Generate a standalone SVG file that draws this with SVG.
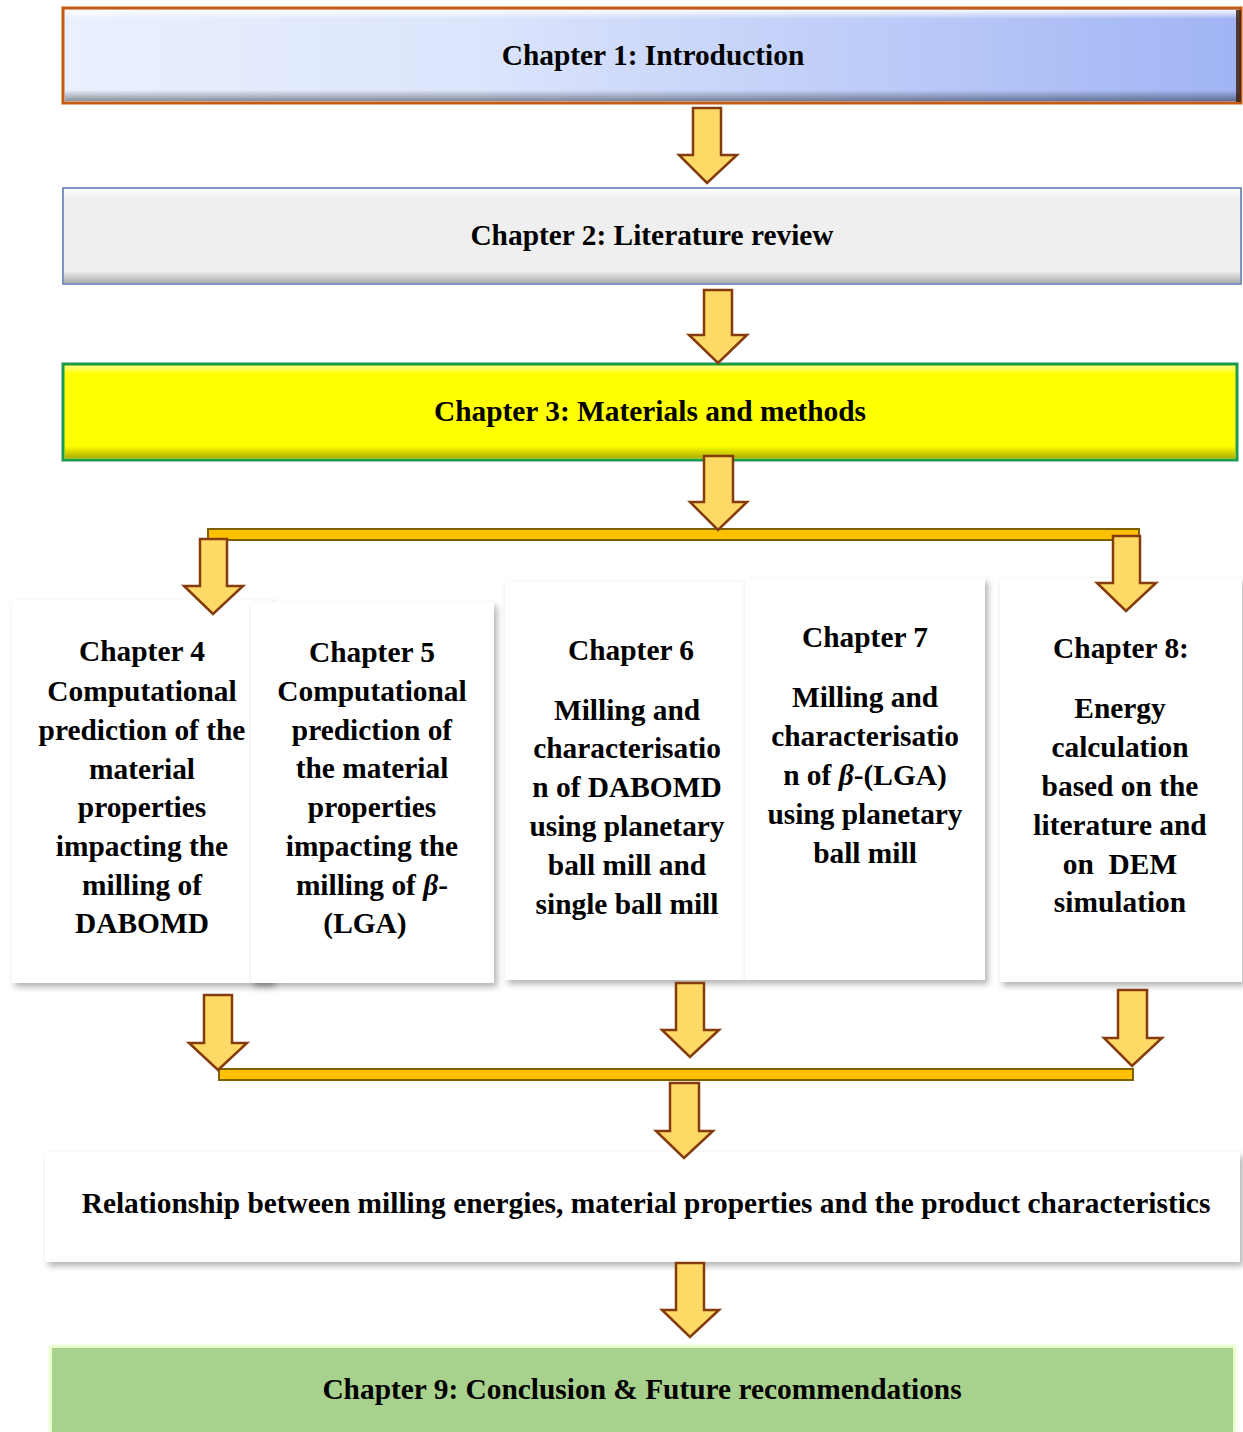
<svg xmlns="http://www.w3.org/2000/svg" width="1243" height="1432" viewBox="0 0 1243 1432">
  <defs>
    <linearGradient id="gBlue" x1="0" y1="0" x2="1" y2="0">
      <stop offset="0" stop-color="#EAF0FE"/>
      <stop offset="0.35" stop-color="#DCE5FC"/>
      <stop offset="1" stop-color="#A0B4F4"/>
    </linearGradient>
    <linearGradient id="bevTop" x1="0" y1="0" x2="0" y2="1">
      <stop offset="0" stop-color="#FFFFFF" stop-opacity="0.9"/>
      <stop offset="1" stop-color="#FFFFFF" stop-opacity="0"/>
    </linearGradient>
    <linearGradient id="bevBot" x1="0" y1="0" x2="0" y2="1">
      <stop offset="0" stop-color="#000000" stop-opacity="0"/>
      <stop offset="1" stop-color="#000000" stop-opacity="0.4"/>
    </linearGradient>
    <filter id="shadow" x="-5%" y="-5%" width="115%" height="115%">
      <feDropShadow dx="3" dy="4" stdDeviation="3" flood-color="#000000" flood-opacity="0.3"/>
    </filter>
    <filter id="glow" x="-2%" y="-10%" width="104%" height="120%">
      <feGaussianBlur stdDeviation="1.5"/>
    </filter>
  </defs>
  <style>
    .t { font-family: "Liberation Serif", "Times New Roman", serif; font-weight: bold; font-size: 29.4px; fill: #000000; text-anchor: middle; }
    .b { font-style: italic; }
    .arrow { fill: #FFD966; stroke: #843C0C; stroke-width: 2.5; stroke-linejoin: miter; }
    .bar { fill: #FFC000; stroke: #7F6000; stroke-width: 2; }
    .card { fill: #FFFFFF; filter: url(#shadow); }
  </style>

  <!-- Chapter 1 -->
  <g id="ch1">
    <rect x="63" y="8" width="1178" height="95" fill="url(#gBlue)" stroke="#C55A11" stroke-width="3"/>
    <rect x="65" y="10" width="1174" height="9" fill="url(#bevTop)"/>
    <rect x="65" y="90" width="1174" height="11" fill="url(#bevBot)"/>
    <rect x="1236" y="10" width="5" height="92" fill="#3A1A08" opacity="0.8"/>
    <text class="t" x="653" y="65">Chapter 1: Introduction</text>
  </g>

  <!-- Chapter 2 -->
  <g id="ch2">
    <rect x="63" y="188" width="1178" height="96" fill="#EFEFEF" stroke="#8094C4" stroke-width="2"/>
    <rect x="64" y="189" width="1176" height="9" fill="url(#bevTop)"/>
    <rect x="64" y="271" width="1176" height="12" fill="url(#bevBot)" opacity="0.7"/>
    <text class="t" x="652" y="245">Chapter 2: Literature review</text>
  </g>

  <!-- Chapter 3 -->
  <g id="ch3">
    <rect x="63" y="364" width="1174" height="96" fill="#FFFF00" stroke="#1E9A50" stroke-width="3"/>
    <rect x="65" y="366" width="1170" height="8" fill="url(#bevTop)" opacity="0.6"/>
    <rect x="65" y="446" width="1170" height="12" fill="url(#bevBot)" opacity="0.8"/>
    <text class="t" x="650" y="421">Chapter 3: Materials and methods</text>
  </g>

  <!-- Chapter 4 -->
  <g id="ch4">
    <rect class="card" x="12" y="600" width="260" height="383"/>
    <text class="t" x="142" y="661">Chapter 4</text>
    <text class="t" x="142" y="701">Computational</text>
    <text class="t" x="142" y="740">prediction of the</text>
    <text class="t" x="142" y="779">material</text>
    <text class="t" x="142" y="817">properties</text>
    <text class="t" x="142" y="856">impacting the</text>
    <text class="t" x="142" y="895">milling of</text>
    <text class="t" x="142" y="933">DABOMD</text>
  </g>

  <!-- Chapter 5 -->
  <g id="ch5">
    <rect class="card" x="251" y="602" width="243" height="381"/>
    <text class="t" x="372" y="662">Chapter 5</text>
    <text class="t" x="372" y="701">Computational</text>
    <text class="t" x="372" y="740">prediction of</text>
    <text class="t" x="372" y="778">the material</text>
    <text class="t" x="372" y="817">properties</text>
    <text class="t" x="372" y="856">impacting the</text>
    <text class="t" x="372" y="895">milling of <tspan class="b">β</tspan>-</text>
    <text class="t" x="365" y="933">(LGA)</text>
  </g>

  <!-- Chapter 6 -->
  <g id="ch6">
    <rect class="card" x="505" y="582" width="240" height="398"/>
    <text class="t" x="631" y="660">Chapter 6</text>
    <text class="t" x="627" y="720">Milling and</text>
    <text class="t" x="627" y="758">characterisatio</text>
    <text class="t" x="627" y="797">n of DABOMD</text>
    <text class="t" x="627" y="836">using planetary</text>
    <text class="t" x="627" y="875">ball mill and</text>
    <text class="t" x="627" y="914">single ball mill</text>
  </g>

  <!-- Chapter 7 -->
  <g id="ch7">
    <rect class="card" x="745" y="578" width="240" height="402"/>
    <text class="t" x="865" y="647">Chapter 7</text>
    <text class="t" x="865" y="707">Milling and</text>
    <text class="t" x="865" y="746">characterisatio</text>
    <text class="t" x="865" y="785">n of <tspan class="b">β</tspan>-(LGA)</text>
    <text class="t" x="865" y="824">using planetary</text>
    <text class="t" x="865" y="863">ball mill</text>
  </g>

  <!-- Chapter 8 -->
  <g id="ch8">
    <rect class="card" x="1000" y="578" width="242" height="404"/>
    <text class="t" x="1121" y="658">Chapter 8:</text>
    <text class="t" x="1120" y="718">Energy</text>
    <text class="t" x="1120" y="757">calculation</text>
    <text class="t" x="1120" y="796">based on the</text>
    <text class="t" x="1120" y="835">literature and</text>
    <text class="t" x="1120" y="874" xml:space="preserve">on  DEM</text>
    <text class="t" x="1120" y="912">simulation</text>
  </g>

  <!-- Relationship summary -->
  <g id="relationship">
    <rect class="card" x="45" y="1152" width="1195" height="110"/>
    <text class="t" x="646" y="1213">Relationship between milling energies, material properties and the product characteristics</text>
  </g>

  <!-- Chapter 9 -->
  <g id="ch9">
    <rect x="49" y="1345" width="1187" height="87" fill="#E4FFC4" filter="url(#glow)"/>
    <rect x="52" y="1348" width="1181" height="84" fill="#A9D18E"/>
    <text class="t" x="642" y="1399">Chapter 9: Conclusion &amp; Future recommendations</text>
  </g>

  <!-- Connectors -->
  <g id="connectors">
    <rect class="bar" x="208" y="529" width="931" height="11"/>
    <rect class="bar" x="219" y="1069" width="914" height="11"/>
    <path class="arrow" d="M693,108 H721 V155 H737 L707,183 L679,155 H693 Z"/>
    <path class="arrow" d="M704,290 H732 V335 H747 L718,363 L689,335 H704 Z"/>
    <path class="arrow" d="M704,456 H733 V502 H747 L718,530 L690,502 H704 Z"/>
    <path class="arrow" d="M200,539 H227 V586 H243 L213,614 L184,586 H200 Z"/>
    <path class="arrow" d="M1113,536 H1140 V583 H1156 L1126,611 L1097,583 H1113 Z"/>
    <path class="arrow" d="M204,995 H232 V1043 H247 L218,1070 L189,1043 H204 Z"/>
    <path class="arrow" d="M676,983 H704 V1030 H719 L690,1057 L662,1030 H676 Z"/>
    <path class="arrow" d="M1118,990 H1147 V1038 H1162 L1132,1066 L1104,1038 H1118 Z"/>
    <path class="arrow" d="M670,1083 H699 V1131 H713 L684,1158 L656,1131 H670 Z"/>
    <path class="arrow" d="M676,1263 H704 V1310 H719 L690,1337 L662,1310 H676 Z"/>
  </g>
</svg>
